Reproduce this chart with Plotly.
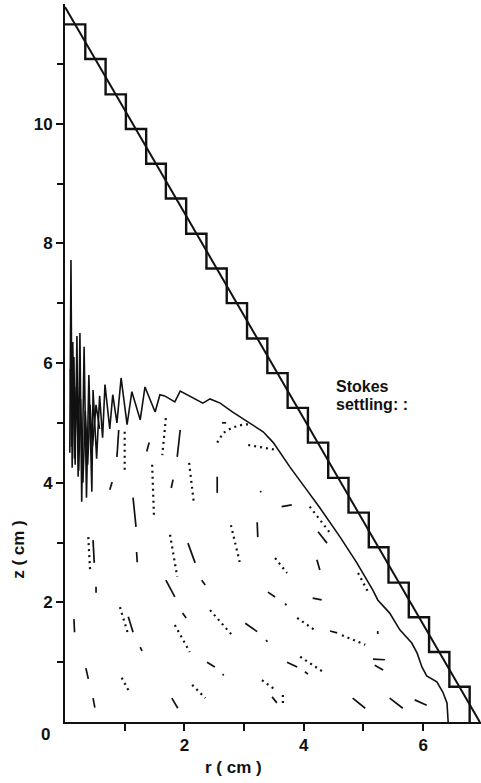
import plotly.graph_objects as go

# ---------------- data ----------------
# Stokes settling front (straight line)
stokes_r = [0.0, 6.95]
stokes_z = [11.95, 0.0]

# discrete (staircase) settling front
step_edges_r = [0.0, 0.34, 0.68, 1.02, 1.36, 1.69, 2.03, 2.37, 2.71, 3.05, 3.39,
                3.73, 4.07, 4.41, 4.75, 5.09, 5.42, 5.76, 6.10, 6.44, 6.78]
step_levels_z = [11.66, 11.08, 10.49, 9.91, 9.33, 8.75, 8.16, 7.58, 7.00, 6.41,
                 5.83, 5.25, 4.67, 4.08, 3.50, 2.92, 2.33, 1.75, 1.17, 0.59]

# computed suspension front (with unstable fingers near the axis)
front_r = [0.08, 0.10, 0.12, 0.15, 0.17, 0.20, 0.22, 0.25, 0.28, 0.32, 0.36, 0.40,
           0.45, 0.47, 0.53, 0.58, 0.63, 0.67, 0.75, 0.80, 0.87, 0.94, 1.04, 1.12,
           1.26, 1.34, 1.51, 1.59, 1.67, 1.84, 1.93, 2.15, 2.31, 2.43, 2.60, 2.81,
           3.10, 3.32, 3.49, 3.77, 4.05, 4.27, 4.61, 4.89, 5.16, 5.24, 5.44, 5.61,
           5.81, 5.90, 5.98, 6.06, 6.23, 6.33, 6.40, 6.42]
front_z = [4.50, 7.72, 4.25, 6.10, 4.30, 6.45, 4.10, 6.50, 3.68, 6.27, 3.75, 5.80,
           3.85, 5.55, 4.40, 5.45, 4.75, 5.64, 4.90, 5.47, 5.00, 5.75, 4.97, 5.52,
           5.05, 5.60, 5.18, 5.47, 5.45, 5.35, 5.53, 5.42, 5.33, 5.40, 5.33, 5.18,
           5.00, 4.85, 4.67, 4.26, 3.88, 3.58, 3.09, 2.66, 2.20, 2.04, 1.82, 1.54,
           1.32, 1.15, 0.92, 0.77, 0.67, 0.50, 0.32, 0.00]

# extra overlapping fingers near the axis
finger_r = [0.09, 0.11, 0.13, 0.16, 0.19, 0.23, 0.26, 0.30, 0.34, 0.38, 0.42, 0.46, 0.52, 0.58]
finger_z = [5.90, 4.60, 6.35, 4.40, 5.60, 4.20, 5.40, 4.00, 5.20, 4.30, 5.30, 4.60, 5.30, 4.90]

# short particle-path dashes (r0, z0, r1, z1)
path_dashes = [
    (0.47, 3.04, 0.49, 2.66), (0.52, 2.26, 0.52, 2.16), (0.15, 1.72, 0.16, 1.50),
    (0.35, 0.90, 0.39, 0.72), (0.47, 0.40, 0.50, 0.24), (1.06, 1.76, 1.14, 1.50),
    (1.26, 1.25, 1.29, 1.19), (1.14, 3.75, 1.19, 3.26), (1.20, 2.84, 1.21, 2.67),
    (0.75, 3.88, 0.79, 4.01), (0.90, 4.88, 0.87, 4.43), (1.41, 4.67, 1.37, 4.52),
    (1.93, 4.88, 1.88, 4.43), (1.81, 4.05, 1.78, 3.91), (2.55, 4.10, 2.55, 3.83),
    (2.63, 5.00, 2.70, 5.00), (3.22, 3.34, 3.23, 3.09), (2.06, 2.99, 2.18, 2.66),
    (2.29, 2.37, 2.35, 2.29), (1.69, 2.37, 1.84, 2.09), (1.97, 1.82, 2.03, 1.74),
    (3.02, 1.65, 3.22, 1.51), (3.37, 1.37, 3.39, 1.34), (3.69, 1.98, 3.71, 1.95),
    (4.44, 1.52, 4.56, 1.49), (2.38, 1.00, 2.51, 0.92), (2.64, 0.80, 2.66, 0.78),
    (3.72, 1.00, 3.89, 0.92), (4.02, 0.84, 4.07, 0.80), (5.16, 1.05, 5.36, 1.04),
    (5.19, 0.95, 5.33, 0.87), (1.79, 0.40, 1.89, 0.23), (3.47, 0.42, 3.55, 0.32),
    (4.82, 0.40, 5.03, 0.23), (5.44, 0.40, 5.66, 0.23), (5.86, 0.37, 6.06, 0.28),
    (3.27, 3.86, 3.29, 3.84), (3.63, 3.60, 3.80, 3.63), (4.24, 3.18, 4.39, 2.99),
    (4.22, 2.71, 4.27, 2.54), (3.40, 2.17, 3.52, 2.09), (4.15, 2.07, 4.30, 2.04),
    (5.24, 1.52, 5.24, 1.47),
]

# dotted particle-path strings (list of (r, z) points)
path_dots = [
    [(0.39, 3.09), (0.42, 2.54)],
    [(0.92, 1.92), (1.06, 1.46)],
    [(0.95, 0.74), (1.09, 0.48)],
    [(1.00, 4.85), (1.00, 4.16)],
    [(1.69, 5.08), (1.63, 4.46)],
    [(1.46, 4.30), (1.49, 3.46)],
    [(2.08, 4.33), (2.16, 3.65)],
    [(2.55, 4.67), (2.65, 4.83), (2.80, 4.92), (2.98, 4.97), (3.13, 4.98)],
    [(3.07, 4.63), (3.52, 4.55)],
    [(2.78, 3.29), (2.93, 2.66)],
    [(1.76, 3.13), (1.88, 2.43)],
    [(1.84, 1.62), (2.09, 1.17)],
    [(2.43, 1.87), (2.80, 1.45)],
    [(3.89, 1.74), (4.22, 1.51)],
    [(4.64, 1.45), (5.03, 1.29)],
    [(3.94, 1.09), (4.32, 0.84)],
    [(2.13, 0.62), (2.35, 0.40)],
    [(3.30, 0.70), (3.52, 0.54)],
    [(3.65, 0.45), (3.65, 0.25)],
    [(4.10, 3.60), (4.44, 3.16)],
    [(3.52, 2.74), (3.72, 2.49)],
    [(4.91, 2.49), (5.08, 2.17)],
]

x_major_ticks = [2, 4, 6]
x_major_labels = ["2", "4", "6"]
y_major_ticks = [2, 4, 6, 8, 10]
y_major_labels = ["2", "4", "6", "8", "10"]

# ---------------- figure ----------------
BLACK = "#111111"
FONT = "Liberation Sans, Arial, sans-serif"

fig = go.Figure()

# staircase
sx, sy = [], []
for k, lev in enumerate(step_levels_z):
    sx += [step_edges_r[k], step_edges_r[k + 1]]
    sy += [lev, lev]
sx.append(step_edges_r[-1])
sy.append(0.0)
fig.add_trace(go.Scatter(x=sx, y=sy, mode="lines",
                         line=dict(color=BLACK, width=2.4),
                         hoverinfo="skip", showlegend=False))

# straight Stokes line
fig.add_trace(go.Scatter(x=stokes_r, y=stokes_z, mode="lines",
                         line=dict(color=BLACK, width=2.0),
                         hoverinfo="skip", showlegend=False))

# front
fig.add_trace(go.Scatter(x=front_r, y=front_z, mode="lines",
                         line=dict(color=BLACK, width=1.6),
                         hoverinfo="skip", showlegend=False))
fig.add_trace(go.Scatter(x=finger_r, y=finger_z, mode="lines",
                         line=dict(color=BLACK, width=1.6),
                         hoverinfo="skip", showlegend=False))

# dashes
dx, dy = [], []
for r0, z0, r1, z1 in path_dashes:
    dx += [r0, r1, None]
    dy += [z0, z1, None]
fig.add_trace(go.Scatter(x=dx, y=dy, mode="lines",
                         line=dict(color=BLACK, width=1.7),
                         hoverinfo="skip", showlegend=False))

# dotted strings
px, py = [], []
for seg in path_dots:
    for r, z in seg:
        px.append(r)
        py.append(z)
    px.append(None)
    py.append(None)
fig.add_trace(go.Scatter(x=px, y=py, mode="lines",
                         line=dict(color=BLACK, width=2.2, dash="2px,4px"),
                         hoverinfo="skip", showlegend=False))

axis_common = dict(showgrid=False, zeroline=False, showline=True,
                   linecolor=BLACK, linewidth=2, ticks="outside",
                   ticklen=7, tickwidth=1.5, tickcolor=BLACK,
                   tickfont=dict(family=FONT, size=17, color=BLACK, weight="bold"))

fig.update_xaxes(range=[0, 6.97], tickvals=x_major_ticks, ticktext=x_major_labels,
                 minor=dict(tickvals=[1, 3, 5], ticks="outside", ticklen=7,
                            tickwidth=1.5, tickcolor=BLACK),
                 **axis_common)
fig.update_yaxes(range=[0, 12], tickvals=y_major_ticks, ticktext=y_major_labels,
                 minor=dict(tickvals=[1, 3, 5, 7, 9, 11], ticks="outside", ticklen=6,
                            tickwidth=1.5, tickcolor=BLACK),
                 **axis_common)

annot_font = dict(family=FONT, size=17, color=BLACK, weight="bold")
fig.add_annotation(x=-0.048, y=-0.018, xref="paper", yref="paper", text="0",
                   xanchor="center", yanchor="middle",
                   showarrow=False, font=annot_font)
fig.add_annotation(x=0.406, y=-0.064, xref="paper", yref="paper", text="r ( cm )",
                   xanchor="center", yanchor="middle",
                   showarrow=False, font=annot_font)
fig.add_annotation(x=-0.111, y=0.241, xref="paper", yref="paper", text="z ( cm )",
                   xanchor="center", yanchor="middle",
                   textangle=-90, showarrow=False, font=annot_font)
stokes_font = dict(family=FONT, size=16, color=BLACK, weight="bold")
fig.add_annotation(x=4.50, y=5.60, xref="x", yref="y", text="Stokes",
                   xanchor="left", yanchor="middle", showarrow=False, font=stokes_font)
fig.add_annotation(x=4.50, y=5.30, xref="x", yref="y", text="settling: :",
                   xanchor="left", yanchor="middle", showarrow=False, font=stokes_font)

fig.update_layout(width=481, height=783,
                  margin=dict(l=65, r=0, t=4, b=61),
                  plot_bgcolor="white", paper_bgcolor="white",
                  showlegend=False)

fig.write_html("out.html")
